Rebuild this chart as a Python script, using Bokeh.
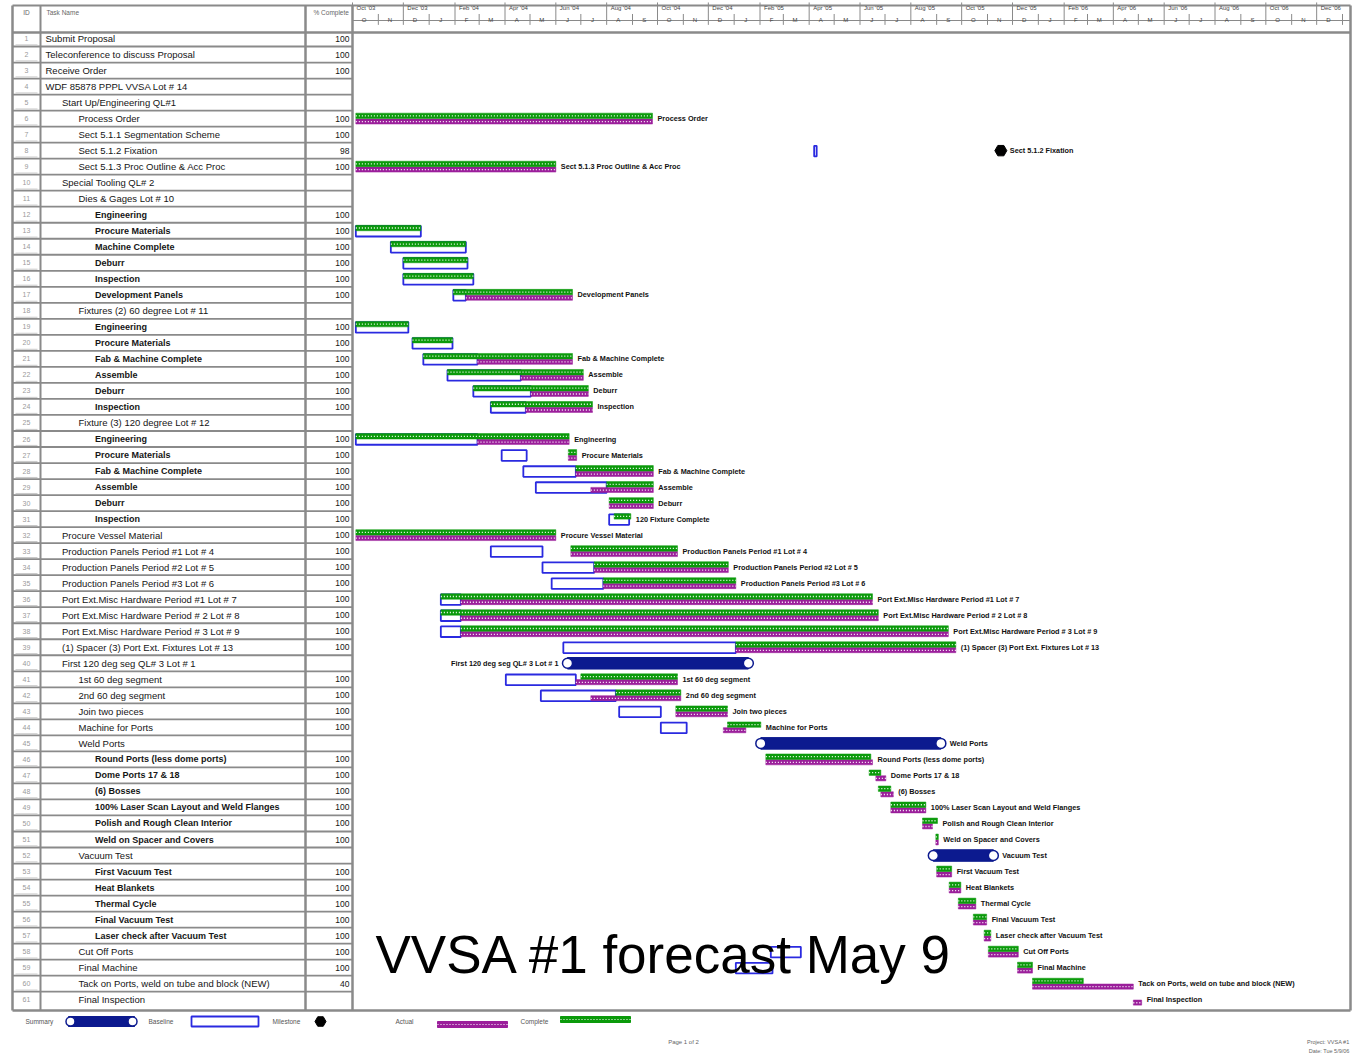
import pandas as pd
from bokeh.plotting import figure
from bokeh.models import Range1d, ColumnDataSource
from bokeh.core.properties import value
from bokeh.embed import file_html
from bokeh.resources import INLINE

# ---------------------------------------------------------------- schedule data
PROJECT_START = "2003-10-01"          # day 0 of the time scale

task_names = [
    "Submit Proposal", "Teleconference to discuss Proposal", "Receive Order",
    "WDF 85878  PPPL VVSA Lot # 14", "Start Up/Engineering QL#1", "Process Order",
    "Sect 5.1.1 Segmentation Scheme", "Sect 5.1.2 Fixation", "Sect 5.1.3 Proc Outline & Acc Proc",
    "Special Tooling QL# 2", "Dies & Gages Lot # 10", "Engineering", "Procure Materials",
    "Machine Complete", "Deburr", "Inspection", "Development Panels",
    "Fixtures (2) 60 degree Lot # 11", "Engineering", "Procure Materials",
    "Fab & Machine Complete", "Assemble", "Deburr", "Inspection",
    "Fixture (3) 120 degree Lot # 12", "Engineering", "Procure Materials",
    "Fab & Machine Complete", "Assemble", "Deburr", "Inspection",
    "Procure Vessel Material", "Production Panels Period #1 Lot # 4",
    "Production Panels Period #2 Lot # 5", "Production Panels Period #3 Lot # 6",
    "Port Ext.Misc Hardware Period #1 Lot # 7", "Port Ext.Misc Hardware Period # 2 Lot # 8",
    "Port Ext.Misc Hardware Period # 3 Lot # 9", "(1) Spacer (3) Port Ext.  Fixtures Lot # 13",
    "First 120 deg seg QL# 3 Lot # 1", "1st 60 deg segment", "2nd 60 deg segment",
    "Join two pieces", "Machine for Ports", "Weld Ports", "Round Ports (less dome ports)",
    "Dome Ports 17 & 18", "(6) Bosses", "100% Laser Scan Layout and Weld Flanges",
    "Polish and Rough Clean  Interior", "Weld on Spacer and Covers", "Vacuum Test",
    "First Vacuum Test", "Heat Blankets", "Thermal Cycle", "Final Vacuum Test",
    "Laser check after Vacuum Test", "Cut Off Ports", "Final Machine",
    "Tack on Ports, weld on tube and block (NEW)", "Final Inspection",
]
outline_level = [1, 1, 1, 1, 2, 3, 3, 3, 3, 2, 3, 4, 4, 4, 4, 4, 4, 3, 4, 4, 4, 4, 4, 4,
                 3, 4, 4, 4, 4, 4, 4, 2, 2, 2, 2, 2, 2, 2, 2, 2, 3, 3, 3, 3, 3, 4, 4, 4,
                 4, 4, 4, 3, 4, 4, 4, 4, 4, 3, 3, 3, 3]
pct_complete = ["100", "100", "100", "", "", "100", "100", "98", "100", "", "", "100", "100",
                "100", "100", "100", "100", "", "100", "100", "100", "100", "100", "100",
                "", "100", "100", "100", "100", "100", "100", "100", "100", "100", "100",
                "100", "100", "100", "100", "", "100", "100", "100", "100", "", "100", "100",
                "100", "100", "100", "100", "", "100", "100", "100", "100", "100", "100",
                "100", "40", ""]

# completed work (green), days from PROJECT_START
complete_row = [6, 9, 13, 14, 15, 16, 17, 19, 20, 21, 22, 23, 24, 26, 27, 28, 29, 30, 31,
                32, 33, 34, 35, 36, 37, 38, 39, 41, 42, 43, 44, 46, 47, 48, 49, 50, 51,
                53, 54, 55, 56, 57, 58, 59, 60]
complete_start = [4, 4, 4, 46, 61, 61, 121, 4, 72, 85, 114, 145, 166, 4, 259, 268, 305, 308,
                  314, 4, 262, 290, 301, 106, 106, 130, 460, 274, 316, 388, 450, 496, 620,
                  631, 646, 684, 700, 701, 716, 727, 745, 758, 763, 798, 816]
complete_end = [360, 244, 82, 136, 138, 145, 264, 67, 120, 264, 277, 283, 288, 260, 269,
                361, 361, 361, 334, 244, 390, 451, 460, 624, 631, 715, 724, 390, 394, 450,
                490, 622, 634, 646, 688, 702, 703, 719, 730, 748, 761, 766, 799, 816, 877]

# actual / forecast work (magenta)
actual_row = [6, 9, 17, 21, 22, 23, 24, 26, 27, 28, 29, 30, 32, 33, 34, 35, 36, 37, 38, 39,
              41, 42, 43, 44, 46, 47, 48, 49, 50, 51, 53, 54, 55, 56, 57, 58, 59, 60, 61]
actual_start = [4, 4, 136, 150, 202, 214, 208, 150, 259, 268, 286, 308, 4, 262, 290, 301,
                130, 130, 130, 460, 268, 286, 388, 445, 496, 628, 634, 646, 684, 700, 701,
                716, 727, 745, 758, 763, 798, 816, 937]
actual_end = [360, 244, 264, 264, 277, 283, 288, 260, 269, 361, 361, 361, 244, 390, 451,
              460, 624, 631, 715, 724, 390, 394, 450, 472, 624, 640, 649, 688, 696, 703,
              719, 730, 748, 761, 766, 799, 816, 937, 947]

# baseline (blue outline)
baseline_row = [8, 13, 14, 15, 16, 17, 19, 20, 21, 22, 23, 24, 26, 27, 28, 29, 31, 33, 34,
                35, 36, 37, 38, 39, 41, 42, 43, 44, 58, 59]
baseline_start = [554, 4, 46, 61, 61, 121, 4, 72, 85, 114, 145, 166, 4, 179, 205, 220, 308,
                  166, 228, 239, 106, 106, 106, 253, 184, 226, 320, 370, 502, 460]
baseline_end = [557, 82, 136, 138, 145, 136, 67, 120, 150, 202, 214, 208, 150, 209, 268,
                305, 332, 228, 290, 301, 130, 130, 130, 460, 268, 316, 370, 401, 538, 504]

# summary bars
summary_row = [40, 45, 52]
summary_start = [258, 490, 697]
summary_end = [475, 706, 769]

# milestones
milestone_row = [8]
milestone_day = [778]

# rows whose bars carry a text label, and labels that differ from the task name
labelled_rows = [6, 8, 9, 17, 21, 22, 23, 24, 26, 27, 28, 29, 30, 31, 32, 33, 34, 35, 36,
                 37, 38, 39, 40, 41, 42, 43, 44, 45, 46, 47, 48, 49, 50, 51, 52, 53, 54, 55,
                 56, 57, 58, 59, 60, 61]
label_override = {31: "120 Fixture Complete"}
left_labelled_rows = [40]

legend_labels = ["Summary", "Baseline", "Milestone", "Actual", "Complete"]
chart_note = "VVSA #1 forecast May 9"
page_label = "Page 1 of 2"
footer_lines = ["Project: VVSA #1", "Date: Tue 5/9/06"]

# ---------------------------------------------------------------- page geometry
W, H = 1352, 1062
GANTT_X0 = 352            # left edge of the time scale, px
PX_PER_DAY = 1 / 1.2
ROW0_Y, ROW_PITCH = 38.0, 16.02

GREEN, MAGENTA, BLUE, NAVY = "#0b9a0b", "#9b1f9b", "#2a2ae0", "#0c1a8f"
GRID = "#8a8a8a"
FONT = "Liberation Sans"

n_rows = len(task_names)
rows = list(range(1, n_rows + 1))

p = figure(width=W, height=H, output_backend="svg", toolbar_location=None,
           x_range=Range1d(-GANTT_X0 / PX_PER_DAY, (W - GANTT_X0) / PX_PER_DAY),
           y_range=Range1d(1 + (H - ROW0_Y) / ROW_PITCH, 1 - ROW0_Y / ROW_PITCH),
           min_border=0, x_axis_type=None, y_axis_type=None)
p.outline_line_color = None
p.grid.visible = False
p.background_fill_color = "white"
p.border_fill_color = "white"
p.extra_x_ranges = {"px": Range1d(0, W)}
p.extra_y_ranges = {"py": Range1d(H, 0)}

# ---------------------------------------------------------------- task table
TAB_L, ID_R, NAME_R, TAB_R = 12, 40, 305, 352
TOP, HEAD_B, BOT = 5, 32, 1010

hl = [r + 0.5 for r in rows[:-1]]
p.segment(x0=[TAB_L] * len(hl), x1=[TAB_R] * len(hl), y0=hl, y1=hl,
          x_range_name="px", line_color=GRID, line_width=1.8)
p.segment(x0=[TAB_L + 3] * len(hl), x1=[ID_R - 3] * len(hl),
          y0=[r + 0.40 for r in rows[:-1]], y1=[r + 0.40 for r in rows[:-1]],
          x_range_name="px", line_color="#c8c8c8", line_width=1)

# frame lines
for x0, y0, x1, y1, lw in [
    (TAB_L, TOP, TAB_L, BOT, 2.5), (ID_R, TOP, ID_R, BOT, 2), (NAME_R, TOP, NAME_R, BOT, 2.5),
    (TAB_R, TOP, TAB_R, BOT, 2.5), (W - 2, TOP, W - 2, BOT, 2.5),
    (TAB_L, TOP, W - 2, TOP, 2), (TAB_L, HEAD_B, W - 2, HEAD_B, 2.5),
    (TAB_L, BOT, W - 2, BOT, 2.5), (TAB_R, 20, W - 2, 20, 1)]:
    p.segment(x0=[x0], y0=[y0], x1=[x1], y1=[y1], x_range_name="px", y_range_name="py",
              line_color=GRID, line_width=lw)

table = ColumnDataSource(dict(
    row=rows,
    tid=[str(r) for r in rows],
    name=task_names,
    name_x=[45 + (lv - 1) * 16.5 for lv in outline_level],
    style=["bold" if lv == 4 else "normal" for lv in outline_level],
    size=["9px" if lv == 4 else "9.5px" for lv in outline_level],
    pct=pct_complete,
    id_x=[(TAB_L + ID_R) / 2] * n_rows,
    pct_x=[TAB_R - 3] * n_rows,
))
p.text(x="id_x", y="row", text="tid", source=table, x_range_name="px",
       text_font=value(FONT), text_font_size="7px", text_color="#9a9a9a",
       text_align="center", text_baseline="middle")
p.text(x="name_x", y="row", text="name", source=table, x_range_name="px",
       text_font=value(FONT), text_font_size="size", text_font_style="style",
       text_color="#151515", text_baseline="middle")
p.text(x="pct_x", y="row", text="pct", source=table, x_range_name="px",
       text_font=value(FONT), text_font_size="8.5px", text_color="#151515",
       text_align="right", text_baseline="middle")

for txt, x in [("ID", 26), ("Task Name", 46), ("% Complete", 313)]:
    p.text(x=[x], y=[12], text=[txt], x_range_name="px", y_range_name="py",
           text_font=value(FONT), text_font_size="6.5px", text_color="#666666",
           text_baseline="middle", text_align="center" if txt == "ID" else "left")

# ---------------------------------------------------------------- time scale
start = pd.Timestamp(PROJECT_START)
span_days = (W - GANTT_X0) / PX_PER_DAY
major = [d for d in pd.date_range(start, periods=21, freq="2MS") if (d - start).days < span_days]
major_day = [(d - start).days for d in major]
major_lbl = [d.strftime("%b '%y") for d in major]
minor = [d for d in pd.date_range(start, periods=42, freq="MS") if (d - start).days < span_days]
minor_day = [(d - start).days for d in minor]
minor_lbl = [d.strftime("%b")[0] for d in minor]

p.segment(x0=major_day, x1=major_day, y0=[-1.25] * len(major_day), y1=[-0.53] * len(major_day),
          line_color=GRID, line_width=1)
lbl_keep = [i for i, d in enumerate(major_day) if d < span_days - 36]
p.text(x=[major_day[i] for i in lbl_keep], y=[-0.9] * len(lbl_keep),
       text=[major_lbl[i] for i in lbl_keep], x_offset=4,
       text_font=value(FONT), text_font_size="6px", text_color="#444444",
       text_baseline="middle")
p.segment(x0=minor_day, x1=minor_day, y0=[-0.53] * len(minor_day), y1=[0.15] * len(minor_day),
          line_color=GRID, line_width=1)
mkeep = [i for i, d in enumerate(minor_day) if d < span_days - 20]
p.text(x=[minor_day[i] + 14 for i in mkeep], y=[-0.18] * len(mkeep),
       text=[minor_lbl[i] for i in mkeep],
       text_font=value(FONT), text_font_size="6px", text_color="#444444",
       text_baseline="middle", text_align="center")

# ---------------------------------------------------------------- bars
H_HALF = 0.34
base = ColumnDataSource(dict(l=baseline_start, r=baseline_end,
                             t=[r - 0.30 for r in baseline_row],
                             b=[r + 0.36 for r in baseline_row]))
p.quad(left="l", right="r", top="t", bottom="b", source=base,
       fill_color="white", line_color=BLUE, line_width=1.8)

act = ColumnDataSource(dict(l=actual_start, r=actual_end,
                            t=[r + 0.02 for r in actual_row],
                            b=[r + H_HALF for r in actual_row],
                            y=[r + 0.19 for r in actual_row]))
p.quad(left="l", right="r", top="t", bottom="b", source=act,
       fill_color=MAGENTA, line_color=MAGENTA, line_width=0.5)
p.segment(x0="l", x1="r", y0="y", y1="y", source=act,
          line_color="white", line_width=1.3, line_dash="1 2")

comp = ColumnDataSource(dict(l=complete_start, r=complete_end,
                             t=[r - H_HALF for r in complete_row],
                             b=[r for r in complete_row],
                             y=[r - 0.17 for r in complete_row]))
p.quad(left="l", right="r", top="t", bottom="b", source=comp,
       fill_color=GREEN, line_color=GREEN, line_width=0.5)
p.segment(x0="l", x1="r", y0="y", y1="y", source=comp,
          line_color="white", line_width=1.3, line_dash="1 2")

summ = ColumnDataSource(dict(l=summary_start, r=summary_end,
                             t=[r - 0.36 for r in summary_row],
                             b=[r + 0.36 for r in summary_row], y=summary_row))
p.quad(left="l", right="r", top="t", bottom="b", source=summ,
       fill_color=NAVY, line_color=NAVY)
p.scatter(x="l", y="y", source=summ, marker="circle", size=10,
          fill_color="white", line_color=NAVY, line_width=1.5)
p.scatter(x="r", y="y", source=summ, marker="circle", size=10,
          fill_color="white", line_color=NAVY, line_width=1.5)

p.scatter(x=milestone_day, y=milestone_row, marker="hex", size=12,
          fill_color="black", line_color="black")

# bar labels, placed after the last mark of each row
row_end = {}
for rr, e in list(zip(complete_row, complete_end)) + list(zip(actual_row, actual_end)) + \
        list(zip(summary_row, summary_end)) + list(zip(milestone_row, milestone_day)):
    row_end[rr] = max(row_end.get(rr, -1e9), e)
row_start = dict(zip(summary_row, summary_start))

lab_rows = [r for r in labelled_rows if r not in left_labelled_rows]
p.text(x=[row_end[r] for r in lab_rows], y=lab_rows,
       text=[label_override.get(r, task_names[r - 1]) for r in lab_rows],
       x_offset=[9 if r in milestone_row or r in summary_row else 5 for r in lab_rows],
       text_font=value(FONT), text_font_size="7.3px", text_font_style="bold",
       text_color="#111111", text_baseline="middle")
p.text(x=[row_start[r] for r in left_labelled_rows], y=left_labelled_rows,
       text=[task_names[r - 1] for r in left_labelled_rows], x_offset=-9,
       text_font=value(FONT), text_font_size="7.3px", text_font_style="bold",
       text_color="#111111", text_baseline="middle", text_align="right")

# ---------------------------------------------------------------- legend strip
LY = 1021
lg_txt_x = [25, 148, 272, 395, 520]
p.text(x=lg_txt_x, y=[LY] * 5, text=legend_labels, x_range_name="px", y_range_name="py",
       text_font=value(FONT), text_font_size="6.5px", text_color="#555555",
       text_baseline="middle")
p.quad(left=[68], right=[134], top=[LY - 5], bottom=[LY + 5], x_range_name="px",
       y_range_name="py", fill_color=NAVY, line_color=NAVY)
p.scatter(x=[70, 132], y=[LY, LY], x_range_name="px", y_range_name="py", marker="circle",
          size=9, fill_color="white", line_color=NAVY, line_width=1.5)
p.quad(left=[191], right=[258], top=[LY - 5], bottom=[LY + 5], x_range_name="px",
       y_range_name="py", fill_color="white", line_color=BLUE, line_width=1.8)
p.scatter(x=[320], y=[LY], x_range_name="px", y_range_name="py", marker="hex", size=11,
          fill_color="black", line_color="black")
p.quad(left=[437], right=[507], top=[LY], bottom=[LY + 6], x_range_name="px",
       y_range_name="py", fill_color=MAGENTA, line_color=MAGENTA)
p.segment(x0=[437], x1=[507], y0=[LY + 3], y1=[LY + 3], x_range_name="px",
          y_range_name="py", line_color="white", line_width=1.2, line_dash="1 2")
p.quad(left=[560], right=[630], top=[LY - 5], bottom=[LY + 1], x_range_name="px",
       y_range_name="py", fill_color=GREEN, line_color=GREEN)
p.segment(x0=[560], x1=[630], y0=[LY - 2], y1=[LY - 2], x_range_name="px",
          y_range_name="py", line_color="white", line_width=1.2, line_dash="1 2")

p.text(x=[683], y=[1041], text=[page_label], x_range_name="px", y_range_name="py",
       text_font=value(FONT), text_font_size="6px", text_color="#666666",
       text_align="center", text_baseline="middle")
p.text(x=[1349, 1349], y=[1041, 1050], text=footer_lines, x_range_name="px",
       y_range_name="py", text_font=value(FONT), text_font_size="5.5px",
       text_color="#666666", text_align="right", text_baseline="middle")

# ---------------------------------------------------------------- headline note
p.text(x=[375], y=[954], text=[chart_note], x_range_name="px", y_range_name="py",
       text_font=value(FONT), text_font_size="53px", text_color="black",
       text_baseline="alphabetic")

open("out.html", "w").write(file_html(p, INLINE))
